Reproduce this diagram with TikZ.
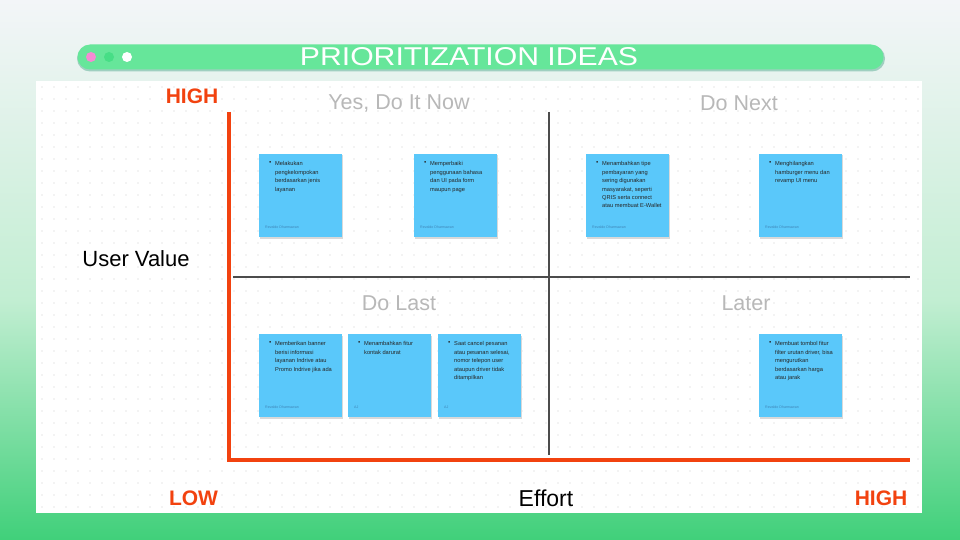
\documentclass[tikz,border=0pt]{standalone}
\usepackage{fontspec}
\setmainfont{Liberation Sans}
\usetikzlibrary{calc}
\definecolor{notebg}{HTML}{5AC8FA}
\definecolor{axisred}{HTML}{F2420F}
\definecolor{qgray}{HTML}{B8B8B8}
\definecolor{pill}{HTML}{66E69A}
\definecolor{pilledge}{HTML}{9FCFC0}
\definecolor{dotc}{HTML}{CFCFCF}
\definecolor{authorc}{HTML}{3F86B8}
\definecolor{bgtop}{HTML}{F3F5F8}
\definecolor{bgmid}{HTML}{C2EED2}
\definecolor{bgbot}{HTML}{40D07A}
\definecolor{dotpink}{HTML}{F58BD3}
\definecolor{dotgreen}{HTML}{47DE86}
\tikzset{
  notebox/.style={fill=notebg, minimum width=83pt, minimum height=83pt, inner sep=0pt},
  notetext/.style={font=\fontsize{5.7}{8.4}\selectfont, text=black!85, align=left, inner sep=0pt, anchor=north west},
  bulletmark/.style={font=\fontsize{6.5}{8.4}\selectfont, text=black!85, inner sep=0pt, anchor=north west},
  authortext/.style={font=\fontsize{3.6}{4}\selectfont, text=authorc, inner sep=0pt, anchor=west},
  quadtitle/.style={font=\fontsize{21.5}{24}\selectfont, text=qgray, inner sep=0pt},
  axislabel/.style={font=\fontsize{21}{24}\selectfont\bfseries, text=axisred, inner sep=0pt},
  plainlabel/.style={font=\fontsize{22}{24}\selectfont, text=black, inner sep=0pt},
  divider/.style={draw=black!70, line width=1.5pt},
  axisline/.style={draw=axisred, line width=3.4pt},
  wdot/.style={circle, minimum size=10pt, inner sep=0pt},
}
\newcommand\stickynote[5]{%
  \fill[black!15] (#2+1,#3+1.5) rectangle ++(83,83);
  \node[notebox, anchor=north west] (#1) at (#2,#3) {};
  \node[bulletmark] (#1b) at ([shift={(10,7)}]#1.north west) {\textbullet};
  \node[notetext] (#1t) at ([shift={(16,7.5)}]#1.north west) {#4};
  \node[authortext] (#1a) at ([shift={(6,73)}]#1.north west) {#5};
}
\begin{document}
\begin{tikzpicture}[x=1pt,y=-1pt]
\useasboundingbox (0,0) rectangle (960,540);
% background gradient
\shade[top color=bgtop, bottom color=bgmid] (0,0) rectangle (960,300);
\shade[top color=bgmid, bottom color=bgbot] (0,300) rectangle (960,540);
% header pill
\fill[pilledge, rounded corners=13] (77,45.5) rectangle (885,71.5);
\node[fill=pill, rounded corners=12.5, minimum width=806pt, minimum height=25pt, inner sep=0pt] (header) at (480.5,57) {};
\node[wdot, fill=dotpink] (d1) at (91,57) {};
\node[wdot, fill=dotgreen] (d2) at (109,57) {};
\node[wdot, fill=white] (d3) at (127,57) {};
\node[text=white, inner sep=0pt] (title) at (469,57) {\resizebox{338pt}{18pt}{PRIORITIZATION IDEAS}};
% white panel
\fill[white] (36,81) rectangle (922,513);
\foreach \xx in {42,54,...,918} {
  \foreach \yy in {87,99,...,510} {
    \fill[dotc] (\xx,\yy) circle (0.6);
  }
}
% quadrant dividers
\coordinate (vtop) at (549,112);
\coordinate (vbot) at (549,455);
\coordinate (hleft) at (233,277);
\coordinate (hright) at (910,277);
\draw[divider] (vtop) -- (vbot);
\draw[divider] (hleft) -- (hright);
% axes
\coordinate (ytop) at (229,112);
\coordinate (origin) at (229,460);
\coordinate (xend) at (910,460);
\draw[axisline, line join=miter] (ytop) -- (origin) -- (xend);
% labels
\node[axislabel] (hightop) at (192,96) {HIGH};
\node[axislabel] (low) at (193.5,498) {LOW};
\node[axislabel] (highright) at (881,498) {HIGH};
\node[plainlabel] (uv) at (136,259) {User Value};
\node[plainlabel, font=\fontsize{23}{24}\selectfont] (effort) at (546,498) {Effort};
\node[quadtitle] (q1) at (399,103) {Yes, Do It Now};
\node[quadtitle] (q2) at (739,103) {Do Next};
\node[quadtitle] (q3) at (399,303) {Do Last};
\node[quadtitle] (q4) at (746,303) {Later};
% notes
\stickynote{n1}{259}{154}{Melakukan\\pengkelompokan\\berdasarkan jenis\\layanan}{Revaldo Dharmawan}
\stickynote{n2}{414}{154}{Memperbaiki\\penggunaan bahasa\\dan UI pada form\\maupun page}{Revaldo Dharmawan}
\stickynote{n3}{586}{154}{Menambahkan tipe\\pembayaran yang\\sering digunakan\\masyarakat, seperti\\QRIS serta connect\\atau membuat E-Wallet}{Revaldo Dharmawan}
\stickynote{n4}{759}{154}{Menghilangkan\\hamburger menu dan\\revamp UI menu}{Revaldo Dharmawan}
\stickynote{n5}{259}{334}{Memberikan banner\\berisi informasi\\layanan Indrive atau\\Promo Indrive jika ada}{Revaldo Dharmawan}
\stickynote{n6}{348}{334}{Menambahkan fitur\\kontak darurat}{AJ}
\stickynote{n7}{438}{334}{Saat cancel pesanan\\atau pesanan selesai,\\nomor telepon user\\ataupun driver tidak\\ditampilkan}{AJ}
\stickynote{n8}{759}{334}{Membuat tombol fitur\\filter urutan driver, bisa\\mengurutkan\\berdasarkan harga\\atau jarak}{Revaldo Dharmawan}
\end{tikzpicture}
\end{document}
